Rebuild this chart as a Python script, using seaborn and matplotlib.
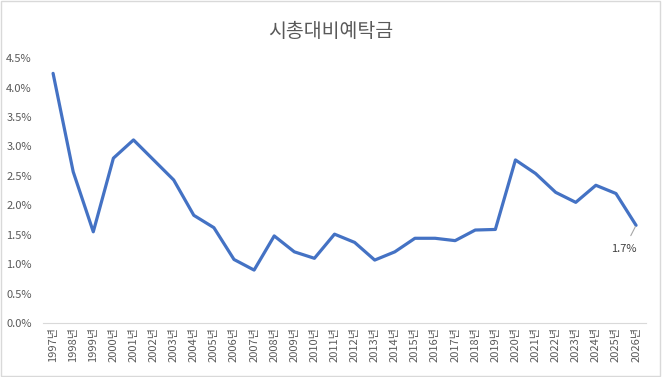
import pandas as pd
import matplotlib.pyplot as plt
import seaborn as sns
from matplotlib.patches import Rectangle
from matplotlib.ticker import PercentFormatter

years = [str(y) + "년" for y in range(1997, 2027)]
ratio = [4.24, 2.57, 1.55, 2.80, 3.11, 2.77, 2.43, 1.83, 1.62, 1.08,
         0.90, 1.48, 1.21, 1.10, 1.51, 1.37, 1.07, 1.21, 1.44, 1.44,
         1.40, 1.58, 1.59, 2.77, 2.54, 2.22, 2.05, 2.34, 2.20, 1.66]
last_label = "1.7%"

df = pd.DataFrame({"year": years, "ratio": ratio})

sns.set_style("white")
plt.rcParams['font.family'] = ['Noto Sans CJK KR', 'DejaVu Sans']

fig = plt.figure(figsize=(6.62, 3.77), dpi=100)
ax = fig.add_axes([0.065, 0.143, 0.911, 0.703])
sns.lineplot(data=df, x="year", y="ratio", sort=False, color="#4472C4",
             linewidth=2.3, ax=ax)

ax.set_xlim(-0.5, len(years) - 0.5)
ax.set_ylim(0, 4.5)
ax.set_yticks([i * 0.5 for i in range(10)])
ax.yaxis.set_major_formatter(PercentFormatter(decimals=1))
ax.set_xlabel("")
ax.set_ylabel("")
for s in ["top", "right", "left"]:
    ax.spines[s].set_visible(False)
ax.spines["bottom"].set_color("#D9D9D9")
ax.tick_params(axis="x", rotation=90, labelsize=8, colors="#595959", length=0, pad=3)
ax.tick_params(axis="y", labelsize=8, colors="#595959", length=0, pad=8)

# label on last point, with a short leader line
n = len(years) - 1
ax.annotate(last_label, xy=(n, ratio[-1]), xytext=(n - 0.6, ratio[-1] - 0.40),
            fontsize=8, color="#404040", ha="center", va="center",
            arrowprops=dict(arrowstyle="-", color="#A6A6A6", lw=0.8,
                            shrinkA=4, shrinkB=1))

fig.suptitle("시총대비예탁금", y=0.945, fontsize=14, color="#595959")
fig.patches.append(Rectangle((0.002, 0.003), 0.995, 0.994, transform=fig.transFigure,
                             fill=False, edgecolor="#D9D9D9", lw=1))

fig.savefig("out.png", dpi=100)
